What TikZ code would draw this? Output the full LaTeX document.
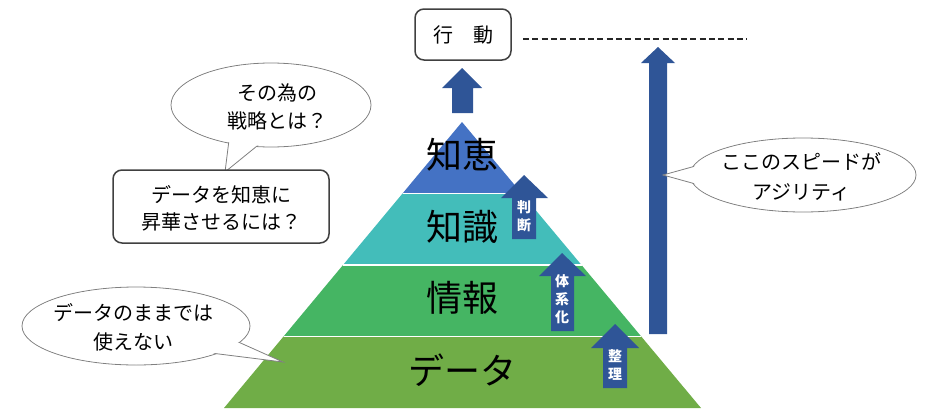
\documentclass[tikz,border=0pt]{standalone}
\usepackage{fontspec}
\setmainfont{Noto Sans CJK JP}
\usetikzlibrary{calc}
\definecolor{topblue}{RGB}{68,114,196}
\definecolor{teal2}{RGB}{67,189,186}
\definecolor{green2}{RGB}{69,181,99}
\definecolor{olive2}{RGB}{112,173,71}
\definecolor{arrowblue}{RGB}{47,85,151}
\definecolor{boxgray}{RGB}{64,64,64}
\definecolor{ellgray}{RGB}{128,128,128}
\tikzset{
  barrow/.style={fill=arrowblue},
  layerlabel/.style={font=\fontsize{36}{40}\selectfont, text=black, inner sep=0pt},
  arrlabel/.style={font=\fontsize{14}{18}\selectfont\bfseries, text=white, align=center, inner sep=0pt},
  calltext/.style={font=\fontsize{20}{28}\selectfont, align=center, inner sep=0pt},
  roundbox/.style={draw=boxgray, line width=1.5pt, rounded corners=9pt, fill=white},
  ellborder/.style={draw=ellgray, line width=0.8pt, fill=white},
}
\begin{document}
\begin{tikzpicture}[x=1pt,y=-1pt]
\useasboundingbox (0,0) rectangle (925,415);
% pyramid
\coordinate (A) at (462,122);
\coordinate (L) at (224,408);
\coordinate (R) at (701,408);
\fill[topblue] (A) -- ($(A)!0.25!(L)$) -- ($(A)!0.25!(R)$) -- cycle;
\fill[teal2] ($(A)!0.25!(L)$) -- ($(A)!0.5!(L)$) -- ($(A)!0.5!(R)$) -- ($(A)!0.25!(R)$) -- cycle;
\fill[green2] ($(A)!0.5!(L)$) -- ($(A)!0.75!(L)$) -- ($(A)!0.75!(R)$) -- ($(A)!0.5!(R)$) -- cycle;
\fill[olive2] ($(A)!0.75!(L)$) -- (L) -- (R) -- ($(A)!0.75!(R)$) -- cycle;
\foreach \t in {0.25,0.5,0.75}{
  \draw[white, line width=1.2pt] ($(A)!\t!(L)$) -- ($(A)!\t!(R)$);
}
\node[layerlabel] (chie) at (462,155) {知恵};
\node[layerlabel] (chishiki) at (462,227) {知識};
\node[layerlabel] (joho) at (462,298) {情報};
\node[layerlabel] (data) at (462,370) {データ};
% block arrows
\fill[barrow] (452,113) -- (452,88) -- (442,88) -- (462,68) -- (482,88) -- (473,88) -- (473,113) -- cycle;
\fill[barrow] (512,239) -- (512,198) -- (501,198) -- (524,175) -- (548,198) -- (536,198) -- (536,239) -- cycle;
\fill[barrow] (551,331) -- (551,276) -- (539,276) -- (562,253) -- (586,276) -- (574,276) -- (574,331) -- cycle;
\fill[barrow] (603,388) -- (603,348) -- (591,348) -- (615,324) -- (639,348) -- (627,348) -- (627,388) -- cycle;
\fill[barrow] (649,334) -- (649,63) -- (641,63) -- (658,47) -- (675,63) -- (667,63) -- (667,334) -- cycle;
\node[arrlabel] (handan) at (524,216) {判\\断};
\node[arrlabel] (taikeika) at (562,299) {体\\系\\化};
\node[arrlabel] (seiri) at (615,365) {整\\理};
% action box and dashed line
\node[roundbox, minimum width=96pt, minimum height=51pt, font=\fontsize{20}{24}\selectfont] (kodo) at (463,34.5) {行　動};
\coordinate (d1) at (523,39);
\coordinate (d2) at (747,39);
\draw[black!85, line width=1.3pt, dash pattern=on 6pt off 3.3pt] (d1) -- (d2);
% callout 1 (ellipse)
\draw[ellborder] (271,105) ellipse [x radius=100, y radius=42];
\draw[ellborder] (229,140) -- (225,172) -- (265,139.5);
\fill[white] (271,105) ellipse [x radius=99, y radius=41];
\node[calltext] (c1) at (277,107) {その為の\\戦略とは？};
% callout box
\node[roundbox, minimum width=216pt, minimum height=73pt] (c2box) at (221,206.5) {};
\node[calltext, font=\fontsize{20}{27}\selectfont] (c2) at (221,208) {データを知恵に\\昇華させるには？};
% callout 3
\draw[ellborder] (136,326) ellipse [x radius=114, y radius=39];
\draw[ellborder] (216,332) -- (283,362) -- (195,351);
\fill[white] (136,326) ellipse [x radius=113, y radius=38];
\node[calltext, font=\fontsize{20}{29}\selectfont] (c3) at (133,327) {データのままでは\\使えない};
% callout 4
\draw[ellborder] (803,175) ellipse [x radius=113, y radius=37];
\draw[ellborder] (710,162) -- (663,175) -- (710,188);
\fill[white] (803,175) ellipse [x radius=112, y radius=36];
\node[calltext, font=\fontsize{20}{30}\selectfont] (c4) at (801,177) {ここのスピードが\\アジリティ};
\end{tikzpicture}
\end{document}
